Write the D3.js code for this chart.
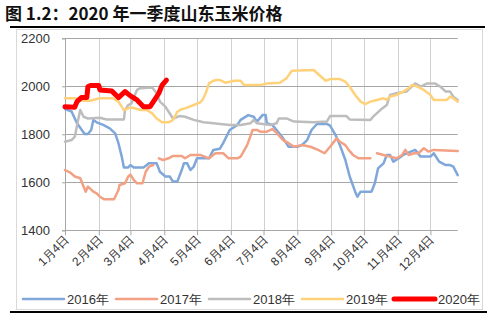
<!DOCTYPE html>
<html>
<head>
<meta charset="utf-8">
<script src="https://cdn.jsdelivr.net/npm/d3@7"></script>
<style>
  html, body { margin: 0; padding: 0; background: #fff; }
  svg { display: block; }
</style>
</head>
<body>
<svg id="chart" width="500" height="324"></svg>
<script>
// Shandong corn price (元/吨), each year plotted on a shared Jan–Dec calendar
const titleText = "图 1.2：2020 年一季度山东玉米价格";

const yTicks = [1400, 1600, 1800, 2000, 2200];
const tickDates = ["01-04","02-04","03-04","04-04","05-04","06-04","07-04","08-04","09-04","10-04","11-04","12-04"];
const tickLabels = ["1月4日","2月4日","3月4日","4月4日","5月4日","6月4日","7月4日","8月4日","9月4日","10月4日","11月4日","12月4日"];

const seriesNames = ["2016年", "2017年", "2018年", "2019年", "2020年"];

const price2016 = [
  ["01-04",1905],["01-10",1895],["01-15",1846],["01-22",1801],["01-25",1801],["01-28",1818],
  ["01-30",1860],["02-02",1850],["02-08",1839],["02-14",1825],["02-19",1804],["02-22",1763],
  ["02-25",1707],["02-27",1662],["03-02",1662],["03-04",1672],["03-07",1662],["03-16",1662],
  ["03-21",1679],["03-28",1679],["03-31",1644],["04-05",1624],["04-09",1624],["04-12",1603],
  ["04-16",1603],["04-20",1651],["04-22",1679],["04-25",1679],["04-28",1651],["05-01",1665],
  ["05-04",1700],["05-15",1700],["05-19",1735],["05-25",1740],["05-28",1763],["06-03",1818],
  ["06-10",1839],["06-13",1860],["06-20",1880],["06-25",1873],["06-28",1853],["07-03",1880],
  ["07-06",1880],["07-07",1846],["07-12",1839],["07-16",1818],["07-22",1783],["07-27",1748],
  ["08-04",1748],["08-08",1755],["08-13",1776],["08-17",1818],["08-22",1843],["08-31",1843],
  ["09-03",1836],["09-08",1797],["09-12",1755],["09-17",1693],["09-21",1624],["09-26",1561],
  ["09-28",1540],["10-01",1561],["10-11",1561],["10-14",1596],["10-17",1658],["10-22",1679],
  ["10-25",1714],["10-28",1714],["10-31",1686],["11-05",1700],["11-09",1714],["11-16",1728],
  ["11-20",1735],["11-25",1707],["12-04",1707],["12-07",1721],["12-12",1686],["12-18",1672],
  ["12-22",1672],["12-25",1665],["12-29",1630]
];

const price2017 = [
  ["01-04",1651],["01-09",1640],["01-13",1624],["01-18",1617],["01-21",1582],["01-23",1561],
  ["01-25",1582],["01-30",1561],["02-02",1554],["02-05",1540],["02-09",1529],["02-18",1529],
  ["02-22",1568],["02-23",1589],["02-28",1596],["03-02",1624],["03-04",1632],["03-07",1610],
  ["03-10",1596],["03-15",1596],["03-18",1644],["03-21",1665],["03-25",1672],["03-27",null],
  ["03-30",1700],["04-03",1693],["04-08",1700],["04-12",1710],["04-20",1710],["04-23",1700],
  ["04-28",1714],["05-07",1714],["05-15",1700],["05-21",1721],["05-28",1721],["06-02",1700],
  ["06-10",1700],["06-13",1707],["06-19",1755],["06-24",1818],["06-28",1818],["07-01",1811],
  ["07-07",1811],["07-12",1822],["07-15",1811],["07-19",1790],["07-22",1776],["07-27",1763],
  ["08-01",1748],["08-08",1755],["08-16",1748],["08-23",1735],["08-29",1721],["09-03",1748],
  ["09-09",1783],["09-12",1769],["09-17",1755],["09-20",1735],["09-24",1714],["09-29",1700],
  ["10-10",1700],["10-13",null],["10-16",1721],["10-22",1714],["10-28",1707],["11-03",1700],
  ["11-08",1714],["11-11",1735],["11-14",1714],["11-19",1721],["11-23",1721],["11-28",1742],
  ["12-02",1728],["12-07",1735],["12-29",1730]
];

const price2018 = [
  ["01-04",1769],["01-10",1776],["01-13",1790],["01-16",1860],["01-18",1901],["01-21",1873],
  ["01-25",1866],["02-05",1869],["02-11",1862],["02-27",1862],["02-28",1901],["03-02",1922],
  ["03-05",1929],["03-10",1985],["03-13",1992],["03-24",1995],["03-28",1971],["03-31",1936],
  ["04-05",1915],["04-08",1894],["04-12",1866],["04-18",1876],["04-23",1873],["05-01",1860],
  ["05-10",1850],["05-19",1846],["06-03",1839],["06-13",1839],["06-22",1846],["06-25",1860],
  ["06-28",1846],["07-10",1839],["07-16",1846],["07-18",1866],["07-25",1866],["08-01",1853],
  ["08-19",1850],["08-31",1853],["09-03",1876],["09-18",1876],["09-21",1862],["10-10",1860],
  ["10-13",1876],["10-19",1901],["10-25",1922],["10-28",1964],["11-03",1971],["11-12",1978],
  ["11-17",1999],["11-20",2012],["11-25",1999],["12-01",2012],["12-08",2012],["12-13",1999],
  ["12-18",1978],["12-22",1978],["12-25",1957],["12-29",1943]
];

const price2019 = [
  ["01-04",1950],["01-13",1950],["01-21",1940],["01-27",1940],["02-05",1950],["02-17",1950],
  ["02-22",1936],["02-27",1901],["03-02",1908],["03-05",1912],["03-13",1901],["03-19",1901],
  ["03-24",1887],["03-28",1866],["04-02",1850],["04-08",1850],["04-12",1860],["04-16",1894],
  ["04-20",1905],["04-23",1908],["05-01",1922],["05-07",1933],["05-09",1943],["05-12",1971],
  ["05-15",2012],["05-19",2023],["05-22",2026],["05-25",2026],["05-30",2015],["06-07",2023],
  ["06-13",2023],["06-16",2005],["07-01",2005],["07-07",2012],["07-19",2015],["07-25",2033],
  ["07-30",2065],["08-19",2068],["08-24",2047],["08-30",2023],["09-03",2030],["09-12",2030],
  ["09-17",2019],["09-21",1998],["09-26",1964],["10-01",1936],["10-05",1926],["10-10",1936],
  ["10-16",1943],["10-22",1950],["10-25",1943],["10-28",1957],["11-03",1964],["11-09",1978],
  ["11-14",1992],["11-17",2005],["11-22",1999],["11-28",1985],["12-04",1964],["12-07",1943],
  ["12-19",1943],["12-22",1957],["12-25",1950],["12-29",1936]
];

const price2020 = [
  ["01-04",1915],["01-13",1913],["01-15",1936],["01-19",1953],["01-24",1953],["01-25",1998],
  ["01-27",2003],["02-04",2003],["02-05",1985],["02-16",1980],["02-22",1953],["02-28",1978],
  ["03-04",1960],["03-10",1943],["03-16",1915],["03-22",1915],["03-27",1950],["03-30",1971],
  ["04-02",2005],["04-06",2026]
];

const seriesData = [price2016, price2017, price2018, price2019, price2020];
const seriesColors = ["#7FA7DA", "#F2A184", "#BDBDBD", "#FFD27A", "#FF0000"];
const seriesWidths = [2.5, 2.5, 2.5, 2.5, 5];

const parseDay = d3.timeParse("%Y-%m-%d");
const toDate = s => parseDay("2000-" + s);

const svg = d3.select("#chart");

// Title and rules
svg.append("text")
  .attr("x", 5).attr("y", 20)
  .attr("font-family", "'Noto Sans CJK SC', sans-serif")
  .attr("font-weight", "bold")
  .attr("font-size", 17)
  .attr("fill", "#111")
  .text(titleText);

svg.append("line").attr("x1", 10).attr("x2", 485).attr("y1", 27).attr("y2", 27)
  .attr("stroke", "#000").attr("stroke-width", 2);
svg.append("rect").attr("x", 16.5).attr("y", 29.5).attr("width", 466).attr("height", 280)
  .attr("fill", "none").attr("stroke", "#D9D9D9").attr("stroke-width", 1);
svg.append("line").attr("x1", 10).attr("x2", 487).attr("y1", 312).attr("y2", 312)
  .attr("stroke", "#000").attr("stroke-width", 2);

// Scales
const x = d3.scaleTime()
  .domain([toDate("01-04"), toDate("12-29")])
  .range([65, 457.7]);
const y = d3.scaleLinear().domain([1400, 2200]).range([230.3, 38.3]);

const font = "'Liberation Sans', Arial, sans-serif";

// Vertical gridlines at month ticks
svg.append("g").selectAll("line")
  .data(tickDates.map(toDate))
  .join("line")
  .attr("x1", d => Math.round(x(d)) + 0.5).attr("x2", d => Math.round(x(d)) + 0.5)
  .attr("y1", y(2200)).attr("y2", y(1400))
  .attr("stroke", "#D0D0D0").attr("stroke-width", 1);

// Y axis with horizontal gridlines
const yAxis = svg.append("g")
  .attr("transform", "translate(65,0)")
  .call(d3.axisLeft(y).tickValues(yTicks).tickFormat(d3.format("d")).tickSize(3).tickPadding(12));
yAxis.select(".domain").attr("stroke", "#A6A6A6");
yAxis.selectAll(".tick line").attr("stroke", "#A6A6A6");
yAxis.selectAll(".tick text").attr("font-family", font).attr("font-size", 13).attr("fill", "#333");
svg.append("g").selectAll("line")
  .data(yTicks)
  .join("line")
  .attr("x1", 65).attr("x2", 457.7)
  .attr("y1", d => Math.round(y(d)) + 0.5).attr("y2", d => Math.round(y(d)) + 0.5)
  .attr("stroke", "#A6A6A6").attr("stroke-width", 1);

// X axis with rotated date labels
const xAxis = svg.append("g")
  .attr("transform", `translate(0,${y(1400)})`)
  .call(d3.axisBottom(x)
    .tickValues(tickDates.map(toDate))
    .tickFormat((d, i) => tickLabels[i])
    .tickSize(5));
xAxis.select(".domain").remove();
xAxis.selectAll(".tick line").attr("stroke", "#A6A6A6");
xAxis.selectAll(".tick text")
  .attr("font-family", font).attr("font-size", 12).attr("fill", "#333")
  .attr("text-anchor", "end")
  .attr("dy", null).attr("y", 0)
  .attr("transform", "translate(4,10) rotate(-45)");

// Price lines
const line = d3.line()
  .defined(d => d[1] !== null)
  .x(d => x(toDate(d[0])))
  .y(d => y(d[1]));

svg.append("g").selectAll("path")
  .data(seriesData)
  .join("path")
  .attr("d", line)
  .attr("fill", "none")
  .attr("stroke", (d, i) => seriesColors[i])
  .attr("stroke-width", (d, i) => seriesWidths[i])
  .attr("stroke-linejoin", "round")
  .attr("stroke-linecap", "round");

// Legend
const legendX = [23, 116, 209, 302, 394];
const legend = svg.append("g").selectAll("g")
  .data(seriesNames)
  .join("g")
  .attr("transform", (d, i) => `translate(${legendX[i]},299)`);
legend.append("line")
  .attr("x1", 0).attr("x2", 41).attr("y1", 0).attr("y2", 0)
  .attr("stroke", (d, i) => seriesColors[i])
  .attr("stroke-width", (d, i) => seriesWidths[i])
  .attr("stroke-linecap", "round");
legend.append("text")
  .attr("x", 44).attr("y", 4.5)
  .attr("font-family", font).attr("font-size", 13).attr("fill", "#333")
  .text(d => d);
</script>
</body>
</html>
